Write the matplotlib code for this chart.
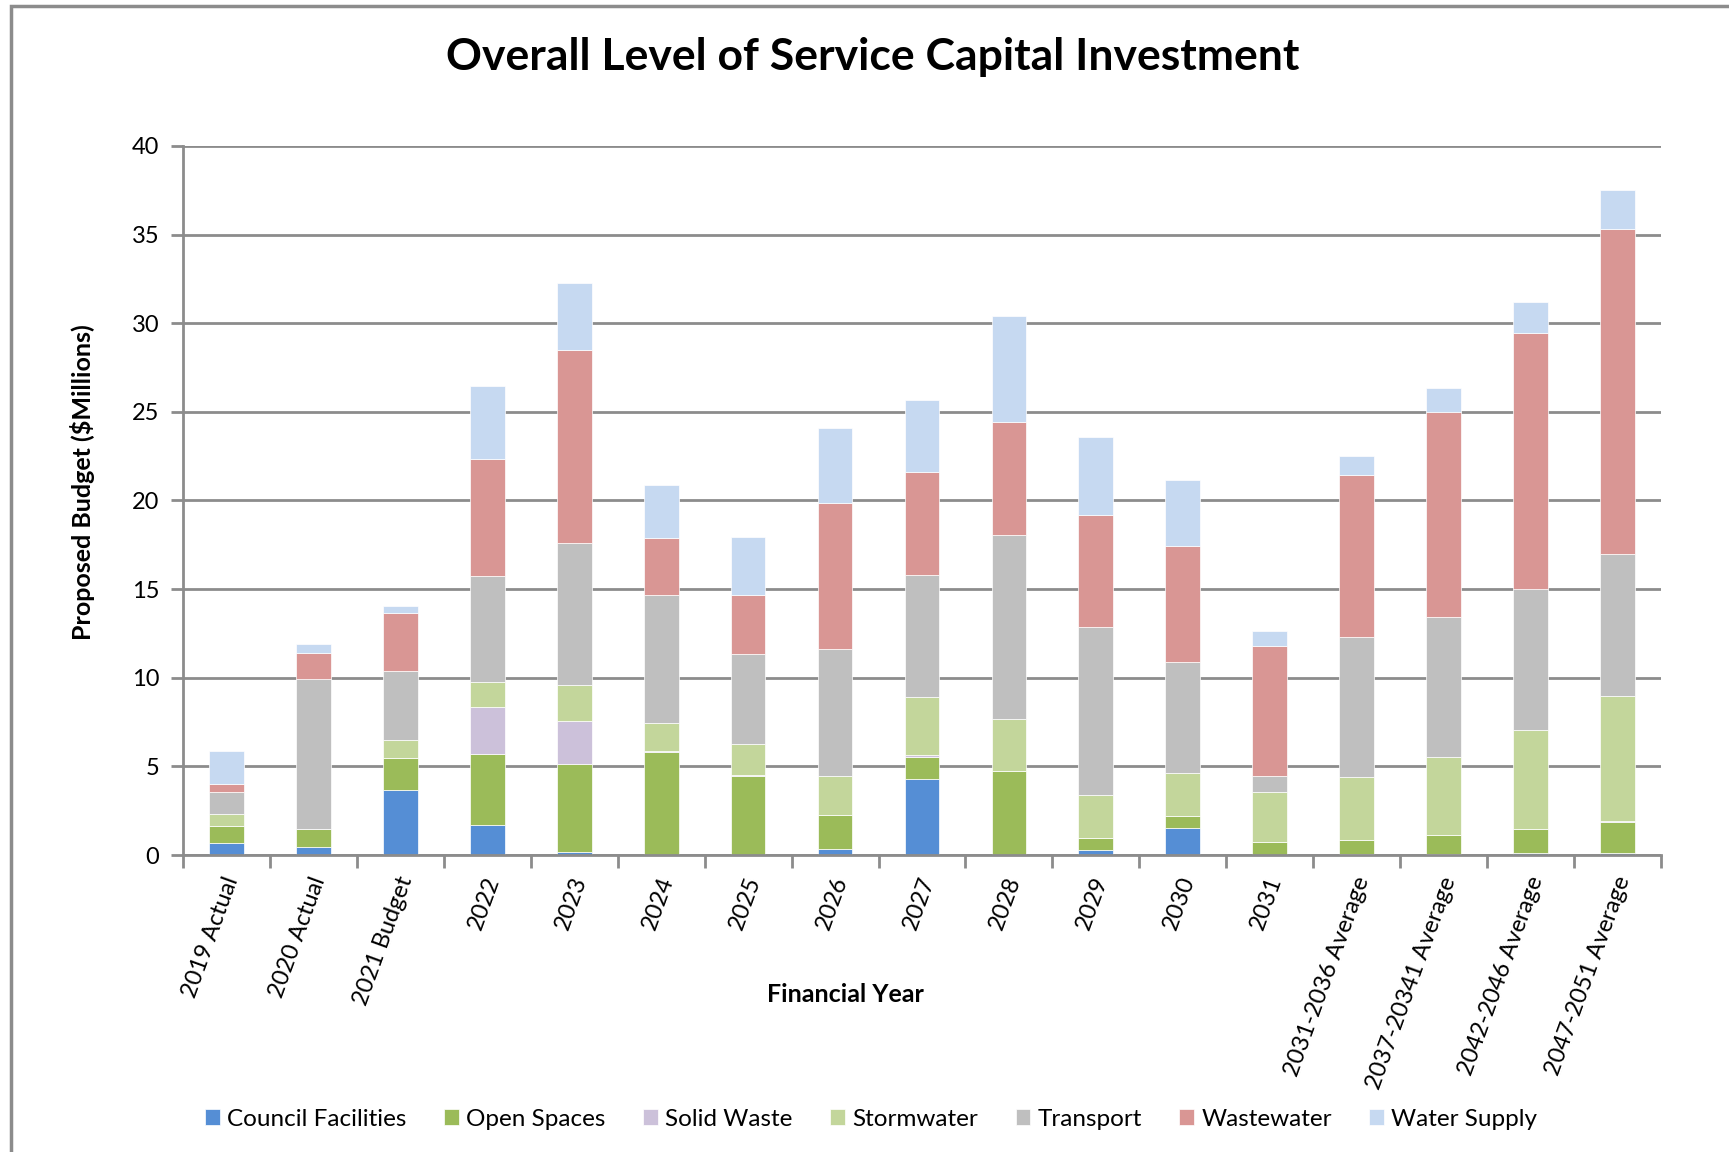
import matplotlib.pyplot as plt
import matplotlib.patches as mpatches
import matplotlib.transforms as mtransforms
import numpy as np

plt.rcParams['font.family'] = ['Lato', 'DejaVu Sans']

# data ($ millions)
years = ['2019 Actual', '2020 Actual', '2021 Budget', '2022', '2023', '2024', '2025',
         '2026', '2027', '2028', '2029', '2030', '2031', '2031-2036 Average',
         '2037-20341 Average', '2042-2046 Average', '2047-2051 Average']

council = [0.66, 0.45, 3.68, 1.71, 0.18, 0, 0, 0.34, 4.26, 0, 0.26, 1.5, 0, 0.05, 0.05, 0.1, 0.1]
open_spaces = [1.0, 1.0, 1.79, 4.0, 4.95, 5.79, 4.47, 1.9, 1.29, 4.76, 0.71, 0.68, 0.71, 0.79, 1.08, 1.35, 1.77]
solid_waste = [0, 0, 0, 2.66, 2.42, 0.05, 0.05, 0.03, 0.1, 0, 0, 0, 0, 0, 0, 0, 0.05]
stormwater = [0.63, 0, 1.03, 1.37, 2.05, 1.6, 1.74, 2.2, 3.24, 2.9, 2.42, 2.43, 2.84, 3.55, 4.4, 5.6, 7.03]
transport = [1.26, 8.5, 3.89, 6.02, 7.98, 7.21, 5.08, 7.16, 6.93, 10.42, 9.48, 6.28, 0.92, 7.9, 7.92, 7.98, 8.02]
wastewater = [0.48, 1.47, 3.27, 6.58, 10.92, 3.21, 3.32, 8.21, 5.81, 6.37, 6.29, 6.53, 7.32, 9.13, 11.52, 14.42, 18.35]
water_supply = [1.81, 0.5, 0.37, 4.13, 3.79, 3.02, 3.29, 4.26, 4.05, 5.94, 4.42, 3.76, 0.84, 1.08, 1.37, 1.76, 2.18]

series = [('Council Facilities', council, '#558ED5'),
          ('Open Spaces', open_spaces, '#9BBB59'),
          ('Solid Waste', solid_waste, '#CCC1DA'),
          ('Stormwater', stormwater, '#C3D69B'),
          ('Transport', transport, '#BFBFBF'),
          ('Wastewater', wastewater, '#D99694'),
          ('Water Supply', water_supply, '#C6D9F1')]

grid_col = '#8C8C8C'

fig = plt.figure(figsize=(17.29, 11.52), dpi=100)
ax = fig.add_axes([0.1058, 0.2578, 0.8549, 0.6155])

x = np.arange(len(years))
bottom = np.zeros(len(years))
for name, vals, col in series:
    ax.bar(x, vals, 0.4, bottom=bottom, color=col, edgecolor='white', linewidth=0.5,
           label=name, zorder=3)
    bottom += np.array(vals)

ax.set_xlim(-0.5, len(years) - 0.5)
ax.set_ylim(0, 40)
ax.set_yticks(np.arange(0, 41, 5))
ax.yaxis.grid(True, color=grid_col, linewidth=2, zorder=0)
ax.set_axisbelow(True)

for s in ['top', 'right']:
    ax.spines[s].set_visible(False)
for s in ['left', 'bottom']:
    ax.spines[s].set_color(grid_col)
    ax.spines[s].set_linewidth(2)
ax.spines['bottom'].set_zorder(4)

ax.tick_params(axis='y', length=9, width=2, color=grid_col, labelsize=17, pad=8)
ax.set_xticks(x)
ax.set_xticklabels(years, rotation=70, ha='right', va='center', rotation_mode='anchor', fontsize=17)
ax.tick_params(axis='x', which='major', length=0, pad=16)
ax.set_xticks(np.arange(-0.5, len(years), 1), minor=True)
ax.tick_params(axis='x', which='minor', length=9, width=2, color=grid_col)
shift = mtransforms.ScaledTranslation(6 / 100, 0, fig.dpi_scale_trans)
for lab in ax.get_xticklabels():
    lab.set_transform(lab.get_transform() + shift)

fig.text(0.505, 0.9505, 'Overall Level of Service Capital Investment', ha='center', va='center',
         fontsize=32, fontweight='bold')
fig.text(0.048, 0.5816, 'Proposed Budget ($Millions)', ha='center', va='center', rotation=90,
         fontsize=18, fontweight='bold')
fig.text(0.489, 0.137, 'Financial Year', ha='center', va='center', fontsize=18, fontweight='bold')

fig.legend(loc='center', bbox_to_anchor=(0.504, 0.0286), ncol=7, frameon=False, fontsize=17.5,
           handlelength=0.6, handleheight=0.6, handletextpad=0.3, columnspacing=1.55)

# chart-area frame (only left and top visible)
fig.patches.append(mpatches.Rectangle((0.0064, -0.1), 1.2, 1.0948, transform=fig.transFigure,
                                      fill=False, edgecolor=grid_col, linewidth=2.5, figure=fig))

fig.savefig('out.png', dpi=100)
